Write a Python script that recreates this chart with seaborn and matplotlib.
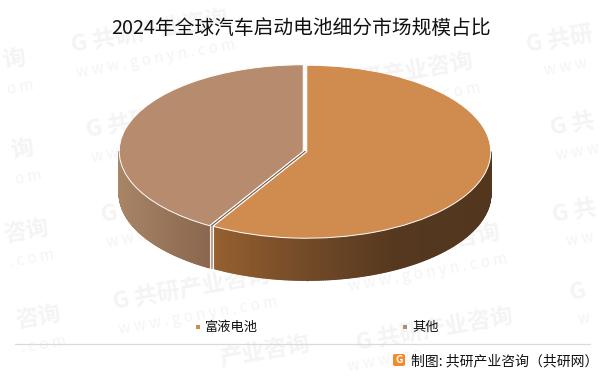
import numpy as np
import matplotlib
matplotlib.use("Agg")
import matplotlib.pyplot as plt
import seaborn as sns
from matplotlib.collections import PolyCollection
from matplotlib.colors import LinearSegmentedColormap
from matplotlib.patches import FancyBboxPatch

title = "2024年全球汽车启动电池细分市场规模占比"
categories = ["富液电池", "其他"]
shares = [58.5, 41.5]
top_colors = ["#D08C4E", "#B78B6E"]
side_colors = [["#96602F", "#734A28", "#55381F", "#52361E"], ["#A88566", "#8A674E"]]
source = "制图: 共研产业咨询（共研网）"
wm_full = "G 共研产业咨询"
wm_sub = "w w w . g o n y n . c o m"
# watermark tiles that fit on the page: (centre x, centre y, main text, sub text)
wm_tiles = [
    (150, 32, wm_full, wm_sub), (165, 117, wm_full, wm_sub), (180, 202, wm_full, wm_sub),
    (192, 289, wm_full, wm_sub), (395, 75, wm_full, wm_sub), (422, 246, wm_full, wm_sub),
    (435, 330, wm_full, ""), (379, 333, "", "w w w . g o"),
    (560, 40, "G 共研", "w w w"), (572, 125, "G 共", "w w w"),
    (574, 212, "G 共", "w w"), (578, 292, "G", "w"),
    (14, 60, "询", "o m"), (22, 150, "询", "o m"),
    (26, 232, "咨询", ". c o m"), (38, 318, "咨询", ". c o m"),
    (265, 352, "产业咨询", ""),
]

W, H = 601, 376
CX, CY, RX, RY, DEPTH = 305, 151.5, 184, 86.5, 42

sns.set_theme(style="white")
plt.rcParams["font.family"] = ["Noto Sans CJK SC", "DejaVu Sans"]

fig = plt.figure(figsize=(W / 100, H / 100), dpi=100, facecolor="white")
ax = fig.add_axes([0, 0, 1, 1])
ax.set_zorder(5)


def fx(px):
    return px / W


def fy(py):
    return 1 - py / H


for x, y, main, sub in wm_tiles:
    if main:
        fig.text(fx(x), fy(y), main, color="#F4F4F4", fontsize=16.5, fontweight="bold",
                 rotation=10, ha="center", va="center", zorder=0)
    if sub:
        fig.text(fx(x + 6), fy(y + 27), sub, color="#F4F4F4", fontsize=11,
                 rotation=10, ha="center", va="center", zorder=0)

wedges, _ = ax.pie(shares, colors=top_colors, startangle=90, counterclock=False, explode=[0.01, 0.01],
                   wedgeprops={"edgecolor": "white", "linewidth": 0.7, "zorder": 4})
ax.set_aspect("auto")
ax.set_xlim((0 - CX) / RX, (W - CX) / RX)
ax.set_ylim((CY - H) / RY, CY / RY)
ax.set_axis_off()
ax.patch.set_alpha(0)

d = DEPTH / RY
for wedge, cols in zip(wedges, side_colors):
    t1 = max(wedge.theta1, -180)
    t2 = min(wedge.theta2, 0)
    ts = np.radians(np.linspace(t1, t2, 200))
    cx, cy = wedge.center
    xs = cx + np.cos(ts)
    ys = cy + np.sin(ts)
    polys, mids = [], []
    for i in range(len(ts) - 1):
        polys.append([(xs[i], ys[i]), (xs[i + 1], ys[i + 1]), (xs[i + 1], ys[i + 1] - d), (xs[i], ys[i] - d)])
        mids.append((xs[i] + xs[i + 1]) / 2)
    cmap = LinearSegmentedColormap.from_list("side", cols)
    mids = np.array(mids)
    rgba = cmap((mids - mids.min()) / (mids.max() - mids.min()))
    ax.add_collection(PolyCollection(polys, facecolors=rgba, edgecolors=rgba, linewidths=1.0, zorder=2))
    for k in (0, -1):
        if abs(ts[k] + np.pi) > 1e-6 and abs(ts[k]) > 1e-6:
            ax.plot([xs[k], xs[k]], [ys[k], ys[k] - d], color="white", lw=0.8, zorder=3)

# seam seen between the two slices
c0 = (np.array(wedges[0].center) + np.array(wedges[1].center)) / 2
ang = np.radians(wedges[0].theta1)
ax.plot([c0[0], c0[0] + np.cos(ang)], [c0[1], c0[1] + np.sin(ang)], color="#7D6250", lw=1.0, zorder=3)
ax.plot([c0[0] + np.cos(ang)] * 2, [c0[1] + np.sin(ang), c0[1] + np.sin(ang) - d], color="#B5A294", lw=1.0, zorder=3)

fig.text(fx(301), fy(28), title, fontsize=14.2, color="#111111", ha="center", va="center")

for label, colour, mx in zip(categories, top_colors, (198, 405)):
    fig.add_artist(plt.Rectangle((fx(mx - 2), fy(329)), 4 / W, 4 / H, transform=fig.transFigure,
                                 facecolor=colour, edgecolor="none"))
    fig.text(fx(mx + 7), fy(327), label, fontsize=9.5, color="#111111", ha="left", va="center")

fig.add_artist(plt.Line2D([fx(15), fx(590)], [fy(344), fy(344)], color="#DADADA", lw=0.9))
fig.add_artist(FancyBboxPatch((fx(393), fy(366)), 12 / W, 12 / H, transform=fig.transFigure,
                              boxstyle="round,pad=0,rounding_size=0.004", facecolor="#F58A2B", edgecolor="none"))
fig.text(fx(399), fy(360), "G", fontsize=7.5, fontweight="bold", color="white", ha="center", va="center")
fig.text(fx(411), fy(361), source, fontsize=10, color="#111111", ha="left", va="center")

fig.savefig("out.png", dpi=100, facecolor="white")
